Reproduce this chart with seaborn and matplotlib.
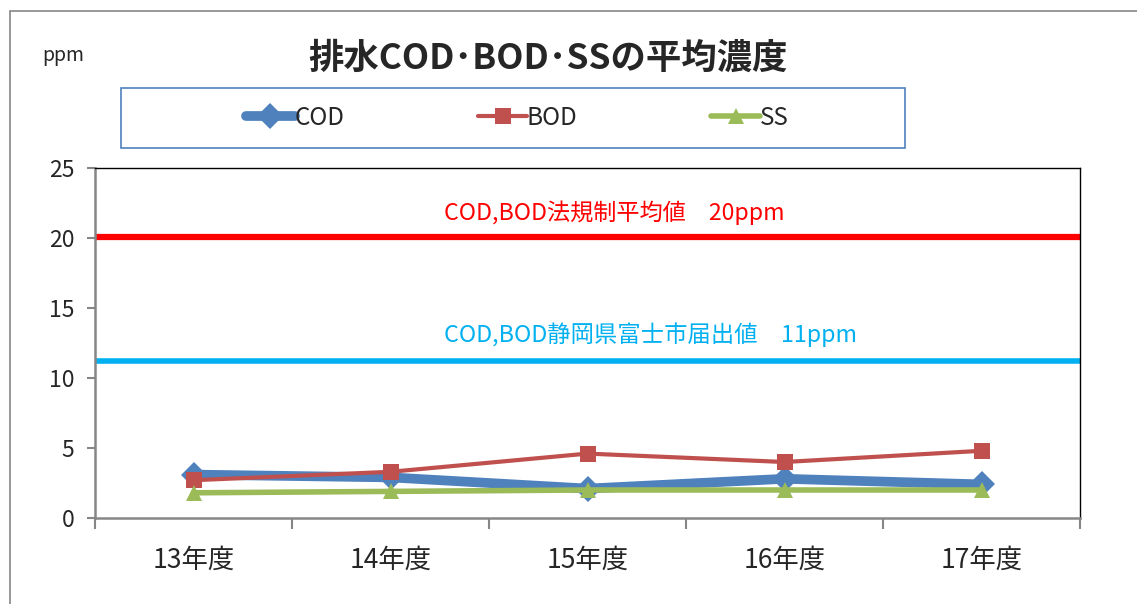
import matplotlib
matplotlib.use('Agg')
import matplotlib.pyplot as plt
from matplotlib.patches import Rectangle
from matplotlib.ticker import FixedLocator
import seaborn as sns
import pandas as pd

# Values
years = ['13年度', '14年度', '15年度', '16年度', '17年度']
cod = [3.1, 2.9, 2.1, 2.8, 2.4]
bod = [2.7, 3.3, 4.6, 4.0, 4.8]
ss = [1.8, 1.9, 2.0, 2.0, 2.0]
legal_limit = 20.1
city_limit = 11.2

sns.set_style('white')
plt.rcParams['font.family'] = ['Noto Sans CJK JP', 'DejaVu Sans']

fig = plt.figure(figsize=(11.37, 6.04), dpi=100, facecolor='white')
ax = fig.add_axes([95 / 1137, 1 - 518 / 604, 985 / 1137, 350 / 604])

xs = list(range(len(years)))
df = pd.DataFrame({'x': xs, 'COD': cod, 'BOD': bod, 'SS': ss})

# reference lines
ax.axhline(legal_limit, color='#FF0000', lw=4.5, zorder=2)
ax.axhline(city_limit, color='#00B0F0', lw=4, zorder=2)

sns.lineplot(data=df, x='x', y='COD', ax=ax, color='#4F81BD', lw=7,
             marker='D', markersize=13, markeredgewidth=0, label='COD', zorder=3)
sns.lineplot(data=df, x='x', y='BOD', ax=ax, color='#C0504D', lw=3,
             marker='s', markersize=11, markeredgewidth=0, label='BOD', zorder=4)
sns.lineplot(data=df, x='x', y='SS', ax=ax, color='#9BBB59', lw=4,
             marker='^', markersize=12, markeredgewidth=0, label='SS', zorder=5)

ax.text(1.27, 21.8, 'COD,BOD法規制平均値　20ppm', color='#FF0000', fontsize=16.7,
        va='center', ha='left')
ax.text(1.27, 13.1, 'COD,BOD静岡県富士市届出値　11ppm', color='#00B0F0', fontsize=16.8,
        va='center', ha='left')

ax.set_xlim(-0.5, 4.5)
ax.set_ylim(0, 25)
ax.set_yticks([0, 5, 10, 15, 20, 25])
ax.set_xticks(xs)
ax.set_xticklabels(years, fontsize=19)
ax.xaxis.set_minor_locator(FixedLocator([-0.5, 0.5, 1.5, 2.5, 3.5, 4.5]))
ax.tick_params(axis='x', which='major', length=0, pad=21)
ax.tick_params(axis='x', which='minor', length=8, color='#868686', width=1.5, direction='out', bottom=True)
ax.tick_params(axis='y', length=6, color='#868686', width=1.5, direction='out', left=True,
               labelsize=16.5, pad=9)
ax.set_xlabel('')
ax.set_ylabel('')

for side in ['top', 'right']:
    ax.spines[side].set_color('black')
    ax.spines[side].set_linewidth(1)
for side in ['left', 'bottom']:
    ax.spines[side].set_color('#868686')
    ax.spines[side].set_linewidth(1.8)

# legend
handles, labels = ax.get_legend_handles_labels()
ax.legend_.remove()
fig.patches.append(Rectangle((121 / 1137, 1 - 148 / 604), 784 / 1137, 60 / 604,
                             transform=fig.transFigure, fill=False,
                             edgecolor='#4F81BD', lw=1.2))
fig.legend(handles, labels, loc='center', bbox_to_anchor=(0.455, 1 - 118 / 604),
           ncol=3, frameon=False, fontsize=17.5, columnspacing=5.5, handlelength=2.0,
           handletextpad=0.0)

# title and unit
fig.text(548 / 1137, 1 - 58 / 604, '排水COD･BOD･SSの平均濃度', fontsize=25.5,
         fontweight='bold', ha='center', va='center')
fig.text(42 / 1137, 1 - 55 / 604, 'ppm', fontsize=14, ha='left', va='center')

# outer chart frame (partially cropped)
fig.patches.append(Rectangle((10 / 1137, -1), 3, 1 + (1 - 11 / 604),
                             transform=fig.transFigure, fill=False,
                             edgecolor='#868686', lw=1.2))

fig.savefig('out.png', dpi=100, facecolor='white')
